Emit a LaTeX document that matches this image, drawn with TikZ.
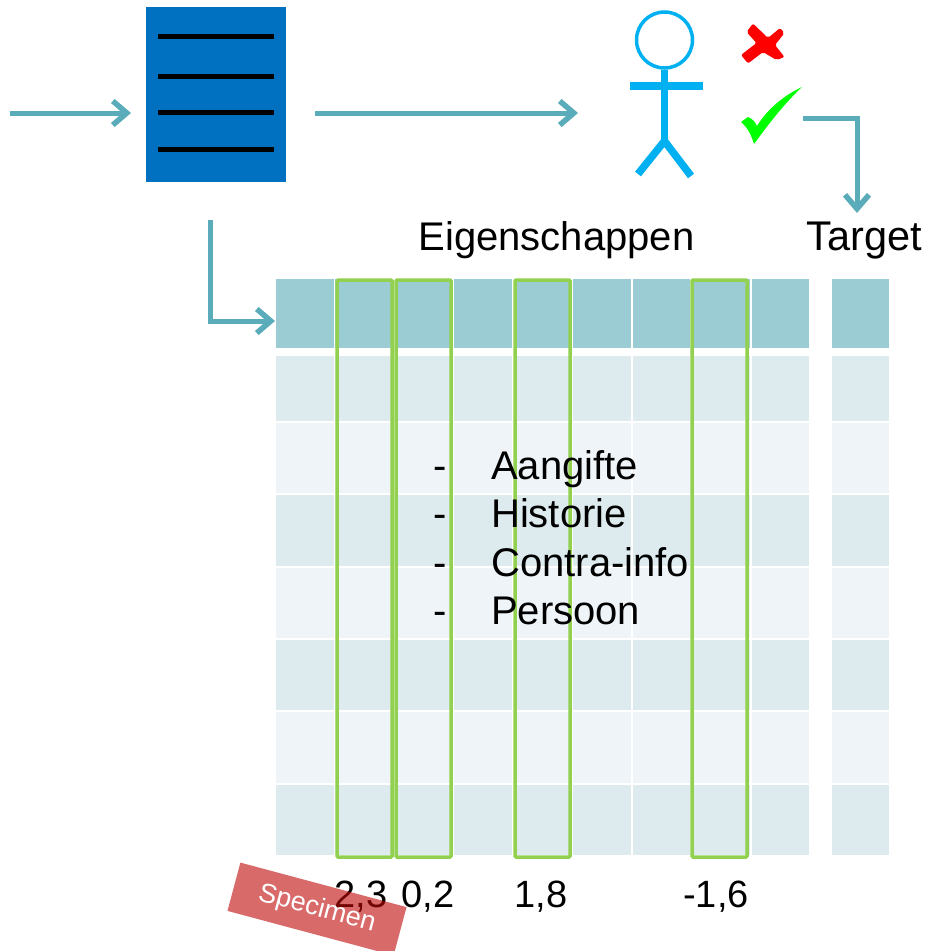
\documentclass[tikz,border=0pt]{standalone}
\usepackage{fontspec}
\setmainfont{Liberation Sans}
\usetikzlibrary{arrows.meta,calc}
\definecolor{flow}{HTML}{5AACBA}
\definecolor{docblue}{HTML}{0070C0}
\definecolor{stick}{HTML}{00B0F0}
\definecolor{headcell}{HTML}{9CCCD3}
\definecolor{rowdark}{HTML}{DDEBEE}
\definecolor{rowlight}{HTML}{EEF4F7}
\definecolor{hilite}{HTML}{92D050}
\definecolor{stamp}{HTML}{C00707}
\tikzset{
  x=1pt,y=-1pt,
  flowline/.style={draw=flow,line width=5pt,-{Straight Barb[length=14pt,width=24pt,line width=5.5pt]}},
  cell/.style={inner sep=0pt,outer sep=0pt,anchor=north west,fill=#1},
  label/.style={inner sep=0pt,font=\fontsize{40}{40}\selectfont,text=black},
  value/.style={inner sep=0pt,font=\fontsize{38}{38}\selectfont,text=black},
  docline/.style={draw=black,line width=5pt},
  colbox/.style={draw=hilite,line width=3.5pt,rounded corners=1pt,inner sep=0pt,outer sep=0pt,anchor=north west},
  limb/.style={draw=stick,line width=7.5pt},
}
\begin{document}
\begin{tikzpicture}
\useasboundingbox (0,0) rectangle (926,951);
\clip (0,0) rectangle (926,951);
% grid
\foreach \r/\y/\h/\c in {h/279/69/headcell,a/356/65/rowdark,b/423/70/rowlight,c/495/71/rowdark,d/568/70/rowlight,e/640/70/rowdark,f/712/71/rowlight,g/785/70/rowdark}{
  \foreach \i in {0,...,8}{
    \pgfmathsetmacro{\xx}{276+59.45*\i}
    \node[cell=\c,minimum width=57.5pt,minimum height=\h pt] (c\r\i) at (\xx,\y) {};
  }
  \node[cell=\c,minimum width=57pt,minimum height=\h pt] (t\r) at (832,\y) {};
}
% document
\node[fill=docblue,inner sep=0pt,outer sep=0pt,anchor=north west,minimum width=140pt,minimum height=175pt] (doc) at (146,7) {};
\foreach \y in {36,76,112,149}{\draw[docline] (158,\y) -- (274,\y);}
% person
\node[draw=stick,line width=3.5pt,circle,minimum size=56pt,inner sep=0pt] (head) at (664.5,40) {};
\coordinate (hip) at (664.5,141);
\coordinate (footl) at (638,174);
\coordinate (footr) at (691,176);
\coordinate (arml) at (630,86);
\coordinate (armr) at (703,86);
\draw[limb] (head.south) -- (hip);
\draw[limb,line width=8.5pt] (arml) -- (armr);
\draw[limb] (footl) -- (hip) -- (footr);
% cross
\fill[red,rounded corners=2pt] (746.5,32) -- (753,23.5) -- (768,38) -- (780,28) -- (784.5,33) -- (775,45) -- (784.5,57) -- (776.5,60) -- (763,52) -- (748,63.5) -- (741,55) -- (756.5,43) -- cycle;
% check
\fill[green] (741,122) -- (748,117) .. controls (753,119) and (755,122) .. (757,126) .. controls (768,108) and (785,95) .. (802,87) .. controls (785,103) and (770,122) .. (754,144) .. controls (751,134) and (747,127) .. (741,122) -- cycle;
\coordinate (checkend) at (803,118);
% arrows
\coordinate (instart) at (10,113);
\coordinate (docin) at (131,113);
\coordinate (docout) at (315,113);
\coordinate (personin) at (578,113);
\coordinate (tabstart) at (210,220);
\coordinate (tabend) at (275,321);
\coordinate (targetin) at (857,213);
\draw[flowline] (instart) -- (docin);
\draw[flowline] (docout) -- (personin);
\draw[flowline] (tabstart) |- (tabend);
\draw[flowline] (checkend) -| (targetin);
% labels
\node[label,anchor=base] (eig) at (556.5,250) {Eigenschappen};
\node[label,anchor=base,font=\fontsize{41.5}{41.5}\selectfont] (target) at (864,250) {Target};
% highlight columns
\foreach \n/\x in {k1/337,k2/396,k3/515,k4/692}{
  \node[colbox,minimum width=55pt,minimum height=577pt] (\n) at (\x,280) {};
}
% list
\foreach \n/\y/\t in {l1/479/Aangifte,l2/527/Historie,l3/576/Contra-info,l4/624/Persoon}{
  \node[label,anchor=base] (\n d) at (440,\y) {-};
  \node[label,anchor=base west] (\n) at (491,\y) {\t};
}
% values
\foreach \n/\x/\t in {v1/361/{2,3},v2/428/{0,2},v3/541/{1,8},v4/716/{-1,6}}{
  \node[value,anchor=base] (\n) at (\x,907) {\t};
}
% stamp
\node[fill=stamp,fill opacity=.6,text opacity=1,text=white,rotate=-15,minimum width=172pt,minimum height=50pt,inner sep=0pt,font=\fontsize{27}{27}\selectfont] (stamp) at (317,909) {Specimen};
\end{tikzpicture}
\end{document}
